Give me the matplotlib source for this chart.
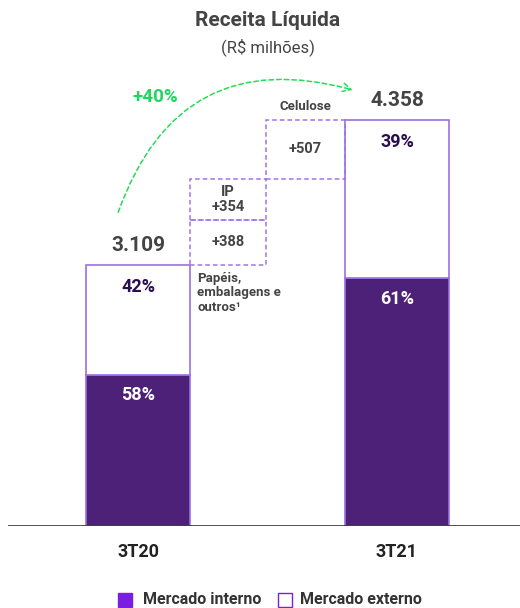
import matplotlib
matplotlib.use("Agg")
import matplotlib.pyplot as plt
from matplotlib.patches import Rectangle, FancyArrowPatch

plt.rcParams['font.family'] = ['Roboto', 'DejaVu Sans']

# data
periods   = ['3T20', '3T21']
totals    = [3109, 4358]
pct_int   = [58, 61]
pct_ext   = [42, 39]
bridge_lb = ['+388', 'IP\n+354', '+507']
bridge_v  = [388, 354, 507]
base      = 861   # bars start above zero in the original

dark   = '#4E2178'
edge   = '#9B6FE3'
dash_c = '#9F73EA'
gray   = '#444444'
green  = '#22DD55'

fig = plt.figure(figsize=(5.2, 6.08), dpi=100)
ax = fig.add_axes([8/520, 1-526/608, 512/520, 526/608])
ax.set_xlim(-0.502, 1.475)
ax.set_ylim(base, base + 526/0.1161)
ax.axis('off')
ax.axhline(base, color='#333333', lw=1.2)

w = 0.40
for i, (t, pi, pe) in enumerate(zip(totals, pct_int, pct_ext)):
    split = base + (t - base) * pi / 100
    ax.add_patch(Rectangle((i - w/2, base), w, split - base, facecolor=dark,
                           edgecolor=edge, lw=1.2))
    ax.add_patch(Rectangle((i - w/2, split), w, t - split, facecolor='white',
                           edgecolor=edge, lw=1.2))
    ax.text(i, t + 90, f"{t/1000:.3f}", ha='center', va='bottom', fontsize=15,
            fontweight='bold', color=gray)
    ax.text(i, t - 110, f"{pe}%", ha='center', va='top', fontsize=13,
            fontweight='bold', color='#2A0E4E')
    ax.text(i, split - 100, f"{pi}%", ha='center', va='top', fontsize=13,
            fontweight='bold', color='white')
    ax.text(i, -0.05, periods[i], transform=ax.get_xaxis_transform(), ha='center',
            va='center', fontsize=13, fontweight='bold', color='#222222')

# bridge boxes
bx = [(0.20, 0.294), (0.20, 0.294), (0.494, 0.305)]
level = totals[0]
for (x0, bw), v, lb in zip(bx, bridge_v, bridge_lb):
    ax.add_patch(Rectangle((x0, level), bw, v, facecolor='none', edgecolor=dash_c,
                           lw=1.1, ls=(0, (3, 2))))
    ax.text(x0 + bw/2, level + v/2, lb, ha='center', va='center', fontsize=10.5,
            fontweight='bold', color=gray, linespacing=1.15)
    level += v

ax.text(0.647, level + 60, 'Celulose', ha='center', va='bottom', fontsize=9.5,
        fontweight='bold', color=gray)
ax.text(0.228, totals[0] - 60, 'Papéis,\nembalagens e\noutros¹', ha='left', va='top',
        fontsize=9.5, fontweight='bold', color=gray, linespacing=1.15)

# growth arrow
arr = FancyArrowPatch((-0.08, 3540), (0.84, 4610), connectionstyle='arc3,rad=-0.47',
                      arrowstyle='->,head_length=6,head_width=3', color=green, lw=1.1,
                      ls=(0, (3, 2)), mutation_scale=1)
ax.add_patch(arr)
ax.text(0.065, 4560, '+40%', ha='center', va='center', fontsize=13.5,
        fontweight='bold', color='#1ED760')

# titles
fig.text(0.515, 1-20/608, 'Receita Líquida', ha='center', va='center', fontsize=15,
         fontweight='bold', color=gray)
fig.text(0.515, 1-47/608, '(R$ milhões)', ha='center', va='center', fontsize=12,
         color=gray)

# legend
fig.patches.append(Rectangle((118/520, 1-607/608), 14/520, 14/608, facecolor='#7A1FE0',
                             edgecolor='#7A1FE0', transform=fig.transFigure))
fig.text(143/520, 1-600/608, 'Mercado interno', ha='left', va='center', fontsize=11.5,
         fontweight='bold', color='#333333')
fig.patches.append(Rectangle((278/520, 1-607/608), 14/520, 14/608, facecolor='white',
                             edgecolor='#7A1FE0', lw=1, transform=fig.transFigure))
fig.text(300/520, 1-600/608, 'Mercado externo', ha='left', va='center', fontsize=11.5,
         fontweight='bold', color='#333333')

fig.savefig('out.png', dpi=100)
